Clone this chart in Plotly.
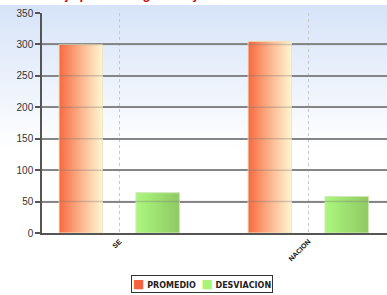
import base64
import plotly.graph_objects as go

# ---- data ----
categories = ["SE", "NACION"]
promedio = [300, 305]
desviacion = [64, 58]
y_ticks = [0, 50, 100, 150, 200, 250, 300, 350]
series_names = ["PROMEDIO", "DESVIACION"]
title_text = "Puntaje promedio general y desviación"

# ---- style ----
W, H = 387, 295
ML, MR, MT, MB = 42, 0, 13, 62
PW, PH = W - ML - MR, H - MT - MB
BAR_W = 0.23
OFFSETS = [-0.32, 0.087]
SOLID = ["#F4623C", "#A6F57A"]
GRAD = [
    [[0, "#F8683F"], [0.5, "#FCB48C"], [1, "#FFF6D2"]],
    [[0, "#ABF77E"], [1, "#8FC962"]],
]
EDGE = ["#EFE6C4", "#CDE8B8"]

xs = list(range(len(categories)))
fig = go.Figure()

for si, (name, vals) in enumerate(zip(series_names, [promedio, desviacion])):
    fig.add_trace(go.Bar(
        x=xs, y=vals, name=name, offset=OFFSETS[si], width=BAR_W,
        marker=dict(color=SOLID[si], line=dict(width=0)),
        showlegend=False, hoverinfo="skip",
    ))

# gradient-filled bodies, one polygon per bar, built from the data
for si, vals in enumerate([promedio, desviacion]):
    for ci, v in enumerate(vals):
        x0 = xs[ci] + OFFSETS[si]
        x1 = x0 + BAR_W
        fig.add_trace(go.Scatter(
            x=[x0, x0, x1, x1, x0], y=[0, v, v, 0, 0],
            mode="lines", fill="toself",
            line=dict(color=EDGE[si], width=1),
            fillgradient=dict(type="horizontal", colorscale=GRAD[si]),
            showlegend=False, hoverinfo="skip",
        ))

# faint grid lines showing through the bars
shapes = [dict(type="line", xref="paper", yref="y", x0=0, x1=1, y0=t, y1=t,
               line=dict(color="rgba(120,120,120,0.35)", width=1.5), layer="above")
          for t in y_ticks[1:-1]]

svg = (
    f"<svg xmlns='http://www.w3.org/2000/svg' width='{W}' height='{H}' viewBox='0 0 {W} {H}' preserveAspectRatio='none'>"
    "<defs><linearGradient id='g' x1='0' y1='0' x2='0' y2='1'>"
    "<stop offset='0' stop-color='#D6E3F8'/><stop offset='0.5' stop-color='#FFFFFF'/>"
    "<stop offset='1' stop-color='#FFFFFF'/></linearGradient></defs>"
    f"<rect x='0' y='5' width='{W}' height='{H-5}' fill='url(#g)'/></svg>"
)
src = "data:image/svg+xml;base64," + base64.b64encode(svg.encode()).decode()

legend_text = "&nbsp;&nbsp;".join(
    f"<span style='color:{c};font-size:12px'>■</span> {n}"
    for c, n in zip(SOLID, series_names)
)

fig.update_layout(
    width=W, height=H,
    margin=dict(l=ML, r=MR, t=MT, b=MB, pad=0),
    paper_bgcolor="white",
    plot_bgcolor="rgba(0,0,0,0)",
    font=dict(family="Liberation Sans, Arial, sans-serif", color="#333"),
    barmode="overlay",
    showlegend=False,
    shapes=shapes,
    images=[dict(
        source=src, xref="paper", yref="paper",
        x=-ML / PW, y=1 + MT / PH, sizex=W / PW, sizey=H / PH,
        xanchor="left", yanchor="top", sizing="stretch", layer="below",
    )],
    xaxis=dict(
        range=[-0.41, 1.415], tickvals=xs,
        ticktext=[f"<b>{c}</b>" for c in categories],
        tickangle=-45, tickfont=dict(size=7, color="#111", family="Liberation Sans, Arial"),
        showgrid=True, gridcolor="#C8C8C8", griddash="dot", gridwidth=1,
        showline=True, linecolor="#555", linewidth=1.5,
        ticks="", zeroline=False, fixedrange=True,
    ),
    yaxis=dict(
        range=[0, 350], tickvals=y_ticks,
        tickfont=dict(size=10, color="#333"),
        showgrid=True, gridcolor="#8A8A8A", gridwidth=1.5,
        showline=True, linecolor="#555", linewidth=1.5,
        ticks="outside", ticklen=5, tickcolor="#555", tickwidth=1.5,
        zeroline=False, fixedrange=True,
    ),
    annotations=[
        dict(
            text=f"<b>{title_text}</b>", xref="paper", yref="paper",
            x=(27 - ML) / PW, y=1, xanchor="left", yanchor="bottom", yshift=9,
            showarrow=False, font=dict(size=13, color="#CC1111"),
        ),
        dict(
            text=f"<b>{legend_text}</b>", xref="paper", yref="paper",
            x=(202 - ML) / PW, y=(233 - 284) / PH, xanchor="center", yanchor="middle",
            showarrow=False, font=dict(size=8, color="#222", family="DejaVu Sans"),
            bordercolor="#333", borderwidth=1, borderpad=1, bgcolor="white",
        ),
    ],
)

fig.write_html(
    "out.html",
    config={"displayModeBar": False},
    post_script="document.body.style.margin='0';document.body.style.padding='0';",
)
